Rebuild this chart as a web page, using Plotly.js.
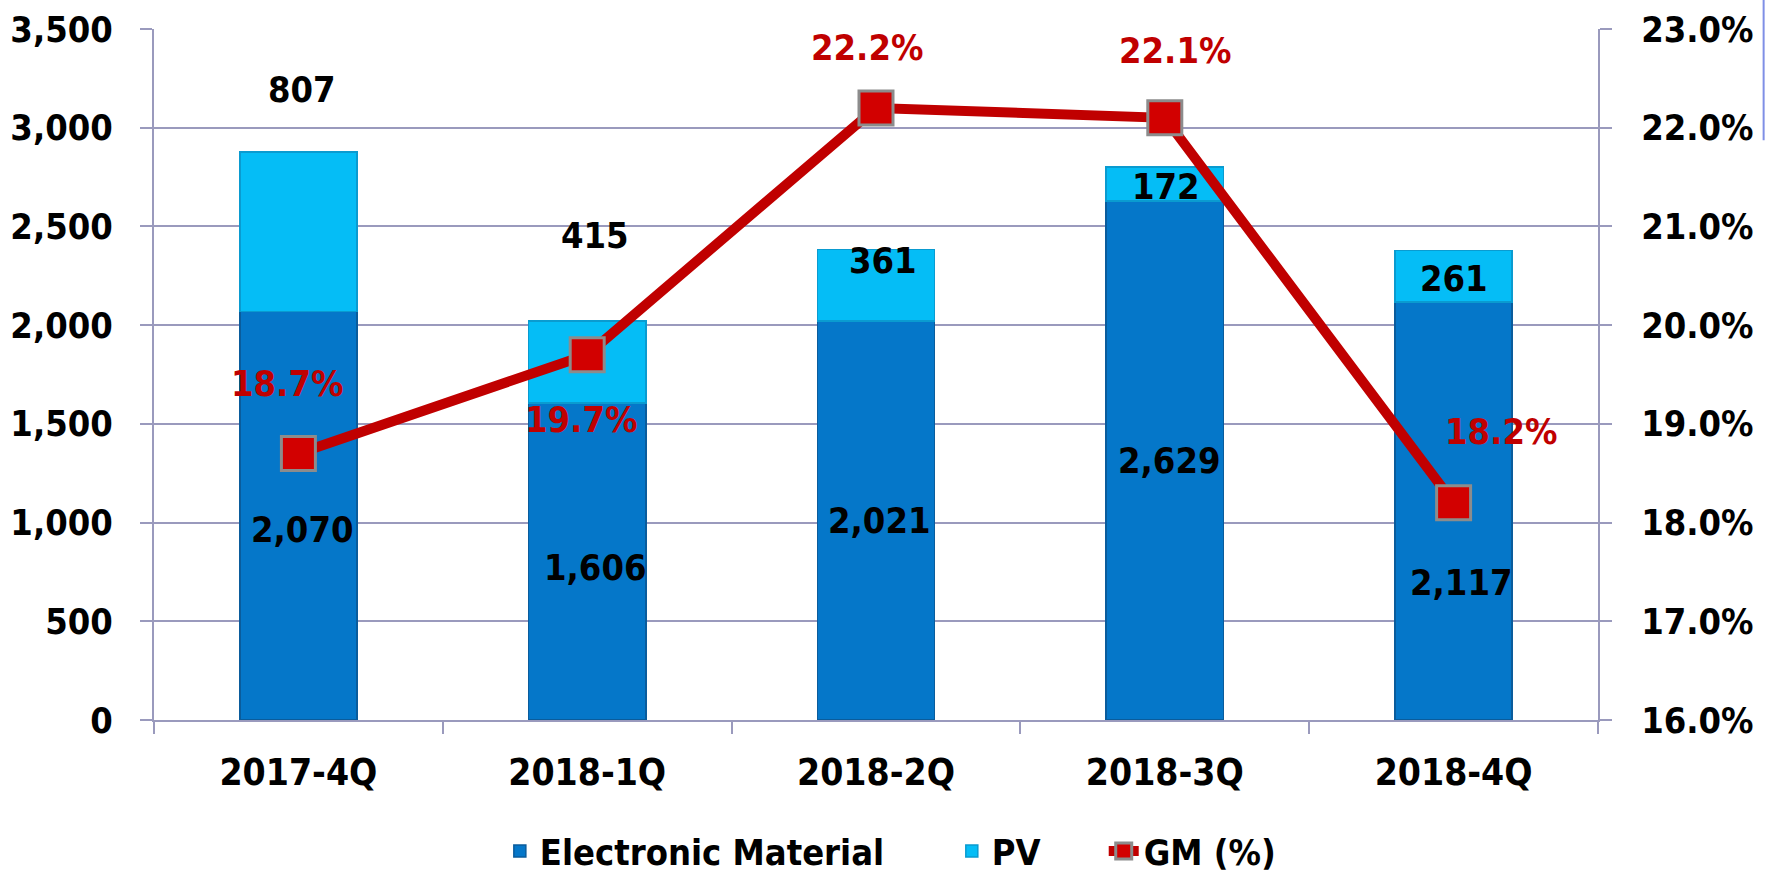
<!DOCTYPE html>
<html>
<head>
<meta charset="utf-8">
<script src="https://cdn.plot.ly/plotly-3.0.1.min.js"></script>
<style>
  html, body { margin: 0; padding: 0; background: #ffffff; }
  #chart { width: 1766px; height: 875px; }
</style>
</head>
<body>
<div id="chart"></div>
<script>
// ---- data ----
const categories = ['2017-4Q', '2018-1Q', '2018-2Q', '2018-3Q', '2018-4Q'];
const electronicMaterial = [2070, 1606, 2021, 2629, 2117];
const pv = [807, 415, 361, 172, 261];
const gm = [0.187, 0.197, 0.222, 0.221, 0.182];
const yTickVals = [0, 500, 1000, 1500, 2000, 2500, 3000, 3500];
const y2TickVals = [0.16, 0.17, 0.18, 0.19, 0.20, 0.21, 0.22, 0.23];

// ---- label offsets in pixels [dx, dy] (style only) ----
const emShift = [[4, -14], [8, -6], [3, 0], [4, 0], [7, -71]];
const pvShift = [[4, 142], [8, 126], [7, 25], [1, -3], [0, -2]];
const gmShift = [[-11, 70], [-6, -65], [-9, 60], [10, 67], [47, 71]];

const FONT = 'DejaVu Sans Condensed, DejaVu Sans, sans-serif';
const GRID = '#9a9abd';
const EM_COLOR = '#0577c9';
const PV_COLOR = '#05bdf6';
const GM_COLOR = '#c00000';

const traces = [
  {
    type: 'bar', name: 'Electronic Material', x: categories, y: electronicMaterial,
    legend: 'legend',
    marker: { color: EM_COLOR, line: { color: '#0a5c9c', width: 1.5 } },
    hoverinfo: 'x+y'
  },
  {
    type: 'bar', name: 'PV', x: categories, y: pv,
    legend: 'legend2',
    marker: { color: PV_COLOR, line: { color: '#0a9bd0', width: 1.5 } },
    hoverinfo: 'x+y'
  },
  {
    type: 'scatter', mode: 'lines+markers', name: 'GM (%)', x: categories, y: gm,
    yaxis: 'y2', legend: 'legend3',
    line: { color: GM_COLOR, width: 10 },
    marker: { symbol: 'square', size: 34, color: '#d20000', line: { color: '#8c8c8c', width: 3 } }
  }
];

const annotations = [];
const labelFont = (c) => ({ family: FONT, size: 36, color: c, weight: 'bold' });
categories.forEach((c, i) => {
  annotations.push({
    x: c, y: electronicMaterial[i] / 2, xref: 'x', yref: 'y',
    text: electronicMaterial[i].toLocaleString('en-US'), showarrow: false,
    xshift: emShift[i][0], yshift: emShift[i][1], font: labelFont('#000000')
  });
  annotations.push({
    x: c, y: electronicMaterial[i] + pv[i] / 2, xref: 'x', yref: 'y',
    text: pv[i].toLocaleString('en-US'), showarrow: false,
    xshift: pvShift[i][0], yshift: pvShift[i][1], font: labelFont('#000000')
  });
  annotations.push({
    x: c, y: gm[i], xref: 'x', yref: 'y2',
    text: (gm[i] * 100).toFixed(1) + '%', showarrow: false,
    xshift: gmShift[i][0], yshift: gmShift[i][1], font: labelFont(GM_COLOR)
  });
});

const legendBase = (x) => ({
  orientation: 'h', x: x, xanchor: 'left', y: -0.1896, yanchor: 'middle',
  font: { family: FONT, size: 36, color: '#000000', weight: 'bold' },
  itemwidth: 30, bgcolor: 'rgba(0,0,0,0)', borderwidth: 0
});

const layout = {
  width: 1766, height: 875,
  margin: { l: 154, r: 168, t: 29, b: 155, pad: 0, autoexpand: false },
  paper_bgcolor: '#ffffff', plot_bgcolor: '#ffffff',
  barmode: 'stack', bargap: 0.594,
  font: { family: FONT, size: 36, color: '#000000', weight: 'bold' },
  showlegend: true,
  legend: legendBase(0.2395),
  legend2: legendBase(0.5525),
  legend3: legendBase(0.6577),
  xaxis: {
    type: 'category', showgrid: false, zeroline: false, automargin: false,
    showline: true, linecolor: GRID, linewidth: 2, mirror: false,
    ticks: 'outside', tickson: 'boundaries', ticklen: 12, tickwidth: 2, tickcolor: GRID,
    ticklabelstandoff: 19,
    tickfont: { family: FONT, size: 37, color: '#000000', weight: 'bold' }
  },
  yaxis: {
    range: [0, 3500], tickvals: yTickVals, tickformat: ',d', automargin: false,
    showgrid: true, gridcolor: GRID, gridwidth: 2, zeroline: false,
    showline: true, linecolor: GRID, linewidth: 2,
    ticks: 'outside', ticklen: 12, tickwidth: 2, tickcolor: GRID,
    ticklabelstandoff: 20,
    tickfont: { family: FONT, size: 36, color: '#000000', weight: 'bold' }
  },
  yaxis2: {
    overlaying: 'y', side: 'right', range: [0.16, 0.23], tickvals: y2TickVals,
    tickformat: '.1%', showgrid: false, zeroline: false, automargin: false,
    showline: true, linecolor: GRID, linewidth: 2,
    ticks: 'outside', ticklen: 12, tickwidth: 2, tickcolor: GRID,
    ticklabelstandoff: 22,
    tickfont: { family: FONT, size: 36, color: '#000000', weight: 'bold' }
  },
  annotations: annotations,
  shapes: [
    { type: 'line', xref: 'paper', yref: 'paper', x0: 1.1147, x1: 1.1147, y0: 1.042, y1: 0.839,
      line: { color: '#7f8fe6', width: 2 } }
  ]
};

Plotly.newPlot('chart', traces, layout, { displayModeBar: false, staticPlot: true });
</script>
</body>
</html>
